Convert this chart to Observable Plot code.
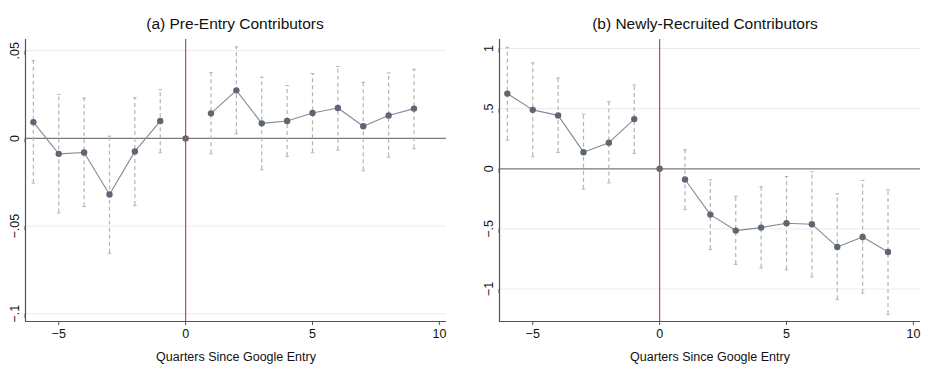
<!DOCTYPE html>
<html>
<head>
<meta charset="utf-8">
<script src="https://cdn.jsdelivr.net/npm/d3@7"></script>
<script src="https://cdn.jsdelivr.net/npm/@observablehq/plot@0.6"></script>
<style>
  html, body { margin: 0; padding: 0; background: #fff; }
  #wrap { display: flex; width: 940px; height: 373px; font-family: "Liberation Sans", Arial, sans-serif; }
  .panel { width: 470px; position: relative; }
  .title { height: 25px; padding-top: 14px; font-size: 15.5px; line-height: 20px; color: #111; text-align: center; white-space: nowrap; }
</style>
</head>
<body>
<div id="wrap">
  <div class="panel" id="pa"></div>
  <div class="panel" id="pb"></div>
</div>
<script>
const quarters = [-6, -5, -4, -3, -2, -1, 0, 1, 2, 3, 4, 5, 6, 7, 8, 9];

// (a) Pre-Entry Contributors
const estA = [0.0093, -0.0088, -0.0080, -0.0320, -0.0074, 0.0099, 0, 0.0143, 0.0274, 0.0086, 0.0099, 0.0145, 0.0173, 0.0069, 0.0131, 0.0170];
const loA  = [-0.0255, -0.0425, -0.0389, -0.0655, -0.0383, -0.0082, 0, -0.0088, 0.0027, -0.0179, -0.0103, -0.0082, -0.0067, -0.0185, -0.0107, -0.0059];
const hiA  = [0.0444, 0.0251, 0.0230, 0.0013, 0.0233, 0.0278, 0, 0.0375, 0.0522, 0.0349, 0.0301, 0.0370, 0.0410, 0.0320, 0.0373, 0.0394];
const ticksA = [-0.1, -0.05, 0, 0.05];

// (b) Newly-Recruited Contributors
const estB = [0.625, 0.490, 0.444, 0.138, 0.217, 0.413, 0, -0.089, -0.381, -0.514, -0.489, -0.453, -0.461, -0.650, -0.567, -0.692];
const loB  = [0.238, 0.100, 0.136, -0.170, -0.118, 0.128, 0, -0.340, -0.672, -0.795, -0.825, -0.839, -0.900, -1.089, -1.036, -1.211];
const hiB  = [1.010, 0.880, 0.755, 0.455, 0.558, 0.697, 0, 0.158, -0.092, -0.228, -0.150, -0.064, -0.025, -0.208, -0.097, -0.175];
const ticksB = [-1, -0.5, 0, 0.5, 1];

const xTicks = [-5, 0, 5, 10];
const xLabel = "Quarters Since Google Entry";
const titles = ["(a) Pre-Entry Contributors", "(b) Newly-Recruited Contributors"];

function fmt(v) {
  if (v === 0) return "0";
  const s = String(Math.abs(v)).replace(/^0\./, ".");
  return (v < 0 ? "\u2212" : "") + s;
}
function fmtX(v) { return v < 0 ? "\u2212" + Math.abs(v) : String(v); }

function build(el, title, est, lo, hi, yTicks, yDomain, mLeft, mRight) {
  const data = quarters.map((q, i) => ({q, est: est[i], lo: lo[i], hi: hi[i], grp: q < 0 ? "pre" : q > 0 ? "post" : "zero"}));
  const lineData = data.filter(d => d.grp !== "zero");
  const barData = data.filter(d => d.grp !== "zero");
  const capW = 0.07;
  const xDomain = [-6.31, 10.28];
  const t = document.createElement("div");
  t.className = "title";
  t.textContent = title;
  el.appendChild(t);
  const chart = Plot.plot({
    width: 470,
    height: 334,
    marginTop: 0,
    marginBottom: 52,
    marginLeft: mLeft,
    marginRight: mRight,
    style: {fontFamily: "Liberation Sans, Arial, sans-serif", fontSize: "12px", color: "#111", background: "#fff"},
    x: {domain: xDomain},
    y: {domain: yDomain},
    marks: [
      Plot.ruleY(yTicks.filter(v => v !== 0), {stroke: "#ebebeb", strokeWidth: 1}),
      Plot.ruleY([0], {stroke: "#7a7a7a", strokeWidth: 1.3}),
      Plot.ruleX(barData, {x: "q", y1: "lo", y2: "hi", stroke: "#b4b4b4", strokeWidth: 1.2, strokeDasharray: "4,3"}),
      Plot.link(barData, {x1: d => d.q - capW, x2: d => d.q + capW, y1: "lo", y2: "lo", stroke: "#b4b4b4", strokeWidth: 1}),
      Plot.link(barData, {x1: d => d.q - capW, x2: d => d.q + capW, y1: "hi", y2: "hi", stroke: "#b4b4b4", strokeWidth: 1}),
      Plot.line(lineData, {x: "q", y: "est", z: "grp", stroke: "#858b92", strokeWidth: 1.1}),
      Plot.dot(data, {x: "q", y: "est", r: 3.2, fill: "#5c6773", stroke: "none"}),
      Plot.ruleX([0], {stroke: "#cc4a40", strokeWidth: 1.2}),
      Plot.ruleX([xDomain[0]], {stroke: "#555", strokeWidth: 1.2}),
      Plot.ruleY([yDomain[0]], {stroke: "#555", strokeWidth: 1.2}),
      Plot.axisY(yTicks, {tickSize: 4, tickPadding: 3, stroke: "#555", tickFormat: fmt, rotate: -90, textAnchor: "middle", lineAnchor: "bottom", label: null, fontSize: 12.5}),
      Plot.axisX(xTicks, {tickSize: 4, tickPadding: 4, stroke: "#555", tickFormat: fmtX, label: xLabel, labelAnchor: "center", labelArrow: "none", labelOffset: 39, fontSize: 12.5})
    ]
  });
  el.appendChild(chart);
}

build(document.getElementById("pa"), titles[0], estA, loA, hiA, ticksA, [-0.1044, 0.0564], 25, 24);
build(document.getElementById("pb"), titles[1], estB, loB, hiB, ticksB, [-1.27, 1.075], 29, 20);
</script>
</body>
</html>
